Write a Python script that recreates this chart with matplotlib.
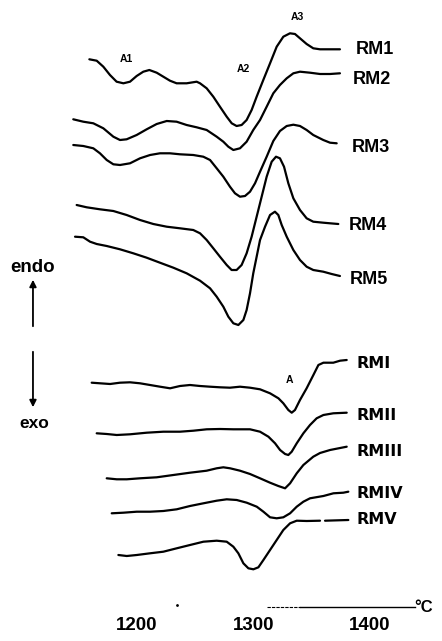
import numpy as np
import matplotlib
matplotlib.use("Agg")
import matplotlib.pyplot as plt

plt.rcParams['font.family'] = ['Liberation Sans', 'DejaVu Sans']

# temperatures (°C) and DTA signal (arbitrary units, endo up, curves stacked)
rm1_t = [1159.1, 1165.4, 1171.1, 1176.8, 1182.5, 1188.3, 1194.0, 1199.7, 1205.4, 1210.6, 1216.9,
         1222.6, 1228.3, 1234.0, 1242.6, 1251.2, 1254.1, 1259.8, 1265.5, 1271.2, 1277.0, 1281.3,
         1285.5, 1289.8, 1294.1, 1298.4, 1302.7, 1308.4, 1314.2, 1319.9, 1325.6, 1331.3, 1335.6,
         1339.9, 1345.6, 1351.3, 1357.1, 1365.7, 1374.2]
rm1_s = [581.7, 580.3, 574.3, 566.0, 559.3, 557.7, 559.3, 565.0, 569.3, 571.0, 568.3,
         564.3, 560.3, 557.7, 557.7, 559.3, 557.7, 552.7, 544.3, 534.3, 524.3, 517.7,
         515.0, 516.0, 521.0, 531.0, 544.3, 561.0, 577.7, 594.3, 604.3, 607.7, 607.0,
         602.7, 597.0, 592.7, 591.7, 591.7, 591.7]

rm2_t = [1145.3, 1153.9, 1162.5, 1171.1, 1179.7, 1185.4, 1191.1, 1199.7, 1208.3, 1216.9, 1225.5,
         1234.0, 1242.6, 1251.2, 1259.8, 1268.4, 1274.1, 1278.4, 1282.7, 1288.4, 1294.1, 1299.8,
         1305.6, 1311.3, 1317.0, 1322.7, 1328.5, 1334.2, 1339.9, 1348.5, 1357.1, 1365.7, 1374.2]
rm2_s = [521.7, 519.3, 517.7, 512.7, 504.3, 501.0, 501.7, 506.0, 511.7, 517.0, 520.0,
         519.3, 516.0, 513.7, 511.0, 504.3, 499.3, 494.3, 491.0, 492.7, 499.3, 511.0,
         521.0, 534.3, 547.7, 556.0, 562.7, 567.7, 569.3, 568.3, 567.0, 567.0, 567.7]

rm3_t = [1145.3, 1153.9, 1162.5, 1168.2, 1174.0, 1179.7, 1185.4, 1194.0, 1202.6, 1211.2, 1219.7,
         1228.3, 1236.9, 1248.3, 1256.9, 1262.7, 1268.4, 1274.1, 1279.8, 1284.1, 1288.4, 1292.7,
         1297.0, 1301.3, 1305.6, 1311.3, 1317.0, 1322.7, 1328.5, 1334.2, 1339.9, 1345.6, 1351.3,
         1359.9, 1365.7, 1371.4]
rm3_s = [496.0, 495.0, 492.7, 487.7, 481.0, 476.7, 476.0, 477.7, 482.7, 486.0, 487.7,
         487.7, 486.7, 486.0, 484.3, 481.0, 472.7, 464.3, 454.3, 447.7, 444.3, 445.0,
         449.3, 457.7, 469.3, 484.3, 500.0, 510.0, 515.0, 516.3, 515.0, 511.0, 506.0,
         501.0, 498.3, 497.7]

rm4_t = [1148.2, 1156.8, 1168.2, 1179.7, 1191.1, 1202.6, 1214.0, 1225.5, 1236.9, 1248.3, 1254.1,
         1259.8, 1265.5, 1271.2, 1277.0, 1281.2, 1285.5, 1289.8, 1294.1, 1298.4, 1302.7, 1307.0,
         1311.3, 1315.6, 1319.3, 1322.7, 1326.2, 1329.9, 1334.2, 1339.9, 1345.6, 1351.3, 1359.9,
         1365.7, 1372.8]
rm4_s = [436.0, 433.7, 431.7, 430.0, 426.0, 421.0, 417.0, 414.3, 412.7, 411.0, 407.7,
         401.0, 392.7, 384.3, 376.0, 371.0, 371.0, 376.0, 387.7, 404.3, 424.3, 444.3,
         464.3, 479.3, 484.3, 482.7, 474.3, 457.7, 442.7, 431.0, 422.7, 419.3, 418.3,
         417.7, 417.0]

rm5_t = [1146.8, 1153.9, 1159.7, 1165.4, 1174.0, 1185.4, 1196.8, 1208.3, 1219.7, 1231.2, 1242.6,
         1254.1, 1262.7, 1268.4, 1274.1, 1278.4, 1282.7, 1287.0, 1291.3, 1294.1, 1297.0, 1299.8,
         1302.7, 1305.6, 1309.9, 1314.2, 1318.4, 1321.3, 1324.2, 1328.5, 1334.2, 1339.9, 1345.6,
         1351.3, 1359.9, 1367.1, 1374.2]
rm5_s = [404.3, 403.7, 399.3, 397.0, 395.0, 391.7, 387.7, 383.3, 378.3, 373.3, 367.7,
         360.3, 352.7, 344.3, 334.3, 324.3, 317.7, 316.0, 321.0, 331.0, 347.7, 367.7,
         384.3, 401.0, 414.3, 426.0, 429.3, 426.0, 416.0, 404.3, 391.0, 381.0, 374.3,
         371.0, 369.3, 367.0, 365.0]

rmi_t = [1161.1, 1168.3, 1176.9, 1185.4, 1194.0, 1202.6, 1211.2, 1219.8, 1228.4, 1236.9, 1245.5,
         1254.1, 1262.7, 1271.3, 1279.8, 1288.4, 1297.0, 1305.6, 1314.2, 1321.4, 1325.6, 1329.9,
         1332.8, 1335.6, 1339.9, 1345.6, 1351.4, 1355.7, 1360.0, 1368.5, 1374.3, 1380.0]
rmi_s = [258.3, 257.7, 257.0, 258.3, 258.7, 257.7, 256.0, 254.3, 252.7, 255.0, 256.0,
         255.0, 254.3, 253.7, 253.3, 254.3, 253.3, 251.7, 247.7, 242.7, 237.7, 231.0,
         228.3, 231.0, 241.0, 252.7, 266.0, 276.0, 278.3, 278.3, 280.3, 281.0]

rmii_t = [1165.4, 1174.0, 1182.6, 1194.0, 1208.3, 1222.6, 1236.9, 1248.4, 1259.8, 1271.3, 1282.7,
          1297.0, 1305.6, 1312.8, 1318.5, 1322.8, 1327.1, 1329.9, 1332.8, 1337.1, 1342.8, 1348.5,
          1354.2, 1360.0, 1368.5, 1380.0]
rmii_s = [207.7, 207.0, 206.0, 206.7, 208.3, 209.3, 209.3, 210.3, 211.7, 212.0, 211.7,
          211.7, 209.3, 204.3, 197.7, 191.0, 187.0, 186.0, 189.3, 197.7, 207.7, 216.0,
          222.7, 226.0, 227.7, 228.3]

rmiii_t = [1174.0, 1182.6, 1191.2, 1202.6, 1216.9, 1231.2, 1245.5, 1259.8, 1268.4, 1274.1, 1279.9,
           1288.4, 1297.0, 1305.6, 1314.2, 1321.3, 1327.1, 1331.4, 1337.1, 1342.8, 1351.3, 1357.1,
           1365.7, 1380.0]
rmiii_s = [162.7, 161.7, 161.7, 162.7, 163.7, 166.0, 168.3, 170.3, 172.7, 173.7, 172.7,
           170.3, 167.0, 162.7, 158.3, 155.0, 152.7, 157.7, 167.7, 176.0, 184.3, 188.0,
           191.0, 194.3]

rmiv_t = [1178.3, 1188.3, 1199.8, 1211.2, 1222.6, 1234.1, 1245.5, 1257.0, 1268.4, 1277.0, 1285.6,
          1294.2, 1302.8, 1308.5, 1314.2, 1319.9, 1325.6, 1331.4, 1337.1, 1342.8, 1348.5, 1360.0,
          1368.6, 1377.1, 1381.4]
rmiv_s = [127.7, 128.3, 129.3, 129.3, 130.0, 131.7, 135.0, 137.7, 140.3, 141.7, 141.0,
          138.3, 134.3, 129.3, 123.7, 122.7, 123.7, 127.7, 134.3, 139.3, 142.7, 145.0,
          147.7, 148.3, 149.3]

rmv_t = [1184.0, 1191.2, 1199.8, 1211.2, 1222.6, 1234.1, 1245.5, 1257.0, 1268.4, 1277.0, 1282.7,
         1287.0, 1291.3, 1295.6, 1299.9, 1304.2, 1308.5, 1314.2, 1319.9, 1325.6, 1331.4, 1337.1,
         1345.7, 1357.1, 1359.0, 1361.4, 1381.4]
rmv_s = [86.0, 85.0, 86.0, 87.7, 89.3, 92.7, 96.0, 99.3, 100.3, 99.3, 94.3,
         87.7, 77.7, 72.7, 71.7, 73.7, 81.0, 91.0, 101.0, 111.0, 117.7, 120.3,
         120.0, 120.3, np.nan, 120.3, 121.0]

names = ["RM1", "RM2", "RM3", "RM4", "RM5", "RMI", "RMII", "RMIII", "RMIV", "RMV"]
label_t = [1388, 1385, 1384, 1382, 1383, 1388, 1388, 1388, 1388, 1388]
label_s = [591, 562, 494, 415, 362, 277, 225, 190, 148, 121]

peak_names = ["A1", "A2", "A3", "A"]
peak_t = [1191, 1291, 1338, 1331]
peak_s = [582, 572, 624, 261]

ticks = [1200, 1300, 1400]

fig = plt.figure(figsize=(4.42, 6.41), dpi=100)
ax = fig.add_axes([0, 0, 1, 1])
ax.set_xlim(1082.4, 1461.8)
ax.set_ylim(0, 641)
ax.axis('off')

curves = [(rm1_t, rm1_s), (rm2_t, rm2_s), (rm3_t, rm3_s), (rm4_t, rm4_s), (rm5_t, rm5_s),
          (rmi_t, rmi_s), (rmii_t, rmii_s), (rmiii_t, rmiii_s), (rmiv_t, rmiv_s), (rmv_t, rmv_s)]
for t, s in curves:
    ax.plot(t, s, color='black', lw=1.6, solid_joinstyle='round', solid_capstyle='round')

for i, (n, lt, ls) in enumerate(zip(names, label_t, label_s)):
    if i < 5:
        ax.text(lt, ls, n, ha='left', va='center', fontsize=13, fontweight='bold', color='black')
    else:
        ax.text(lt, ls, n, ha='left', va='center', fontsize=11.5, fontweight='bold',
                family=['DejaVu Sans'], color='black')

for n, pt, ps in zip(peak_names, peak_t, peak_s):
    ax.text(pt, ps, n, ha='center', va='center', fontsize=7.5, fontweight='bold')

# temperature scale
for tk in ticks:
    ax.text(tk, 15, str(tk), ha='center', va='center', fontsize=13.5, fontweight='bold')
ax.plot([1312, 1340], [34, 34], color='black', lw=0.8, ls=(0, (3, 1)))
ax.plot([1340, 1439], [34, 34], color='black', lw=1.0)
ax.plot([1234], [36], marker='.', color='black', ms=2)
ax.text(1438, 34, '°C', ha='left', va='center', fontsize=12, fontweight='bold')

# endo / exo arrows
ax.annotate('', xy=(1110.7, 364), xytext=(1110.7, 312),
            arrowprops=dict(arrowstyle='-|>', color='black', lw=1.3, mutation_scale=10))
ax.annotate('', xy=(1110.7, 231), xytext=(1110.7, 292),
            arrowprops=dict(arrowstyle='-|>', color='black', lw=1.3, mutation_scale=10))
ax.text(1110.7, 374, 'endo', ha='center', va='center', fontsize=13.5, fontweight='bold')
ax.text(1112, 218, 'exo', ha='center', va='center', fontsize=12.5, fontweight='bold')

fig.savefig('out.png', dpi=100)
